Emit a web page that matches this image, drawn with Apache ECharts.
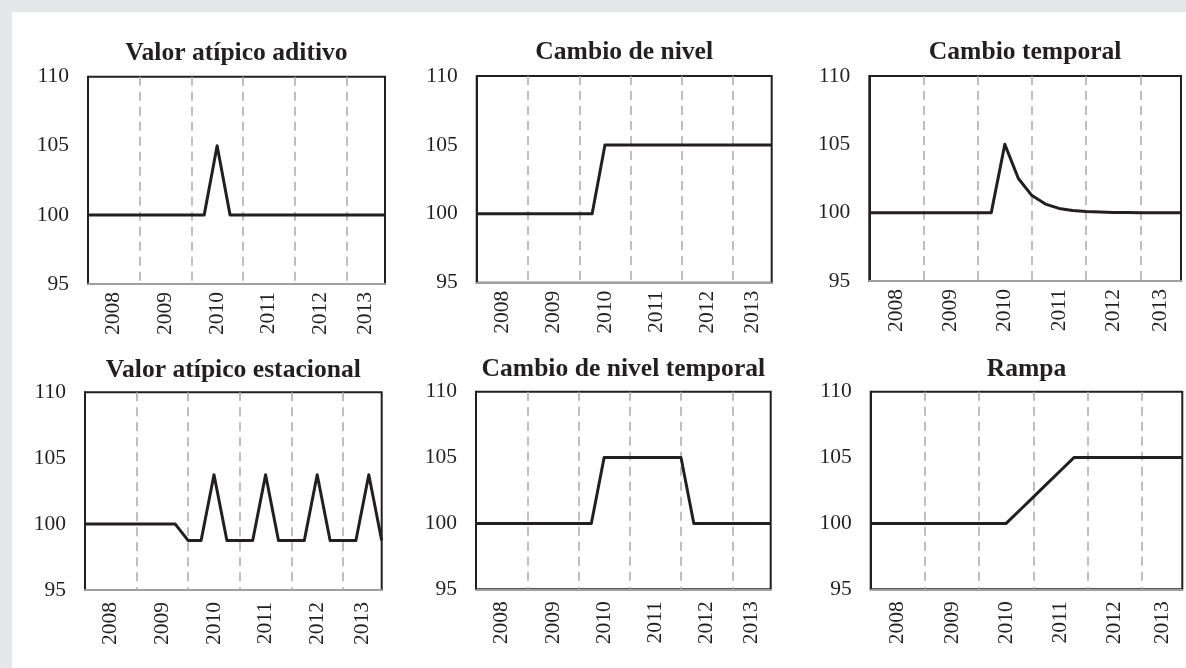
<!DOCTYPE html>
<html>
<head>
<meta charset="utf-8">
<script src="https://cdn.jsdelivr.net/npm/echarts@6/dist/echarts.min.js"></script>
<style>
  html, body { margin: 0; padding: 0; background: #e6e7e8; }
  #bg { position: absolute; left: 12px; top: 12px; width: 1174px; height: 656px; background: #ffffff; }
  #chart { position: absolute; left: 0; top: 0; width: 1186px; height: 668px; }
</style>
</head>
<body>
<div id="bg"></div>
<div id="chart"></div>
<script>
// ---- Data ----
const quarters = [
  '2008T1','2008T2','2008T3','2008T4',
  '2009T1','2009T2','2009T3','2009T4',
  '2010T1','2010T2','2010T3','2010T4',
  '2011T1','2011T2','2011T3','2011T4',
  '2012T1','2012T2','2012T3','2012T4',
  '2013T1','2013T2','2013T3','2013T4'
];
const years = ['2008','2009','2010','2011','2012','2013'];
const yTicks = [95, 100, 105, 110];

const titles = [
  'Valor atípico aditivo',
  'Cambio de nivel',
  'Cambio temporal',
  'Valor atípico estacional',
  'Cambio de nivel temporal',
  'Rampa'
];

const valorAtipicoAditivo = [100,100,100,100, 100,100,100,100, 100,100,105,100, 100,100,100,100, 100,100,100,100, 100,100,100,100];
const cambioDeNivel       = [100,100,100,100, 100,100,100,100, 100,100,105,105, 105,105,105,105, 105,105,105,105, 105,105,105,105];
const cambioTemporal      = [100,100,100,100, 100,100,100,100, 100,100,105,102.5, 101.25,100.63,100.31,100.16, 100.08,100.04,100.02,100.01, 100.00,100.00,100.00,100.00];
const valorAtipicoEstacional = [100,100,100,100, 100,100,100,100, 98.75,98.75,103.75,98.75, 98.75,98.75,103.75,98.75, 98.75,98.75,103.75,98.75, 98.75,98.75,103.75,98.75];
const cambioDeNivelTemporal = [100,100,100,100, 100,100,100,100, 100,100,105,105, 105,105,105,105, 105,100,100,100, 100,100,100,100];
const rampa               = [100,100,100,100, 100,100,100,100, 100,100,100,101, 102,103,104,105, 105,105,105,105, 105,105,105,105];

const seriesData = [valorAtipicoAditivo, cambioDeNivel, cambioTemporal, valorAtipicoEstacional, cambioDeNivelTemporal, rampa];

// year label positions: centre of each year's span of quarters
const yearCenters = years.map(function (y) {
  const first = quarters.findIndex(function (q) { return q.indexOf(y) === 0; });
  let last = -1;
  quarters.forEach(function (q, i) { if (q.indexOf(y) === 0) last = i; });
  const end = (last + 1 < quarters.length) ? last + 1 : last;
  return (first + end) / 2;
});
const yearStarts = years.map(function (y) { return quarters.findIndex(function (q) { return q.indexOf(y) === 0; }); });

// ---- Layout (pixels) ----
const panels = [
  { left: 88,    top: 76.7,  width: 297,   height: 207.3, titleTop: 40.5, xMargin: 8 },
  { left: 476.7, top: 76,    width: 295,   height: 206.7, titleTop: 39.5, xMargin: 8 },
  { left: 869.3, top: 76,    width: 311.7, height: 205,   titleTop: 39.5, xMargin: 8 },
  { left: 85,    top: 392.3, width: 296.7, height: 197.7, titleTop: 357.5, xMargin: 12 },
  { left: 476,   top: 391.7, width: 294.7, height: 197.6, titleTop: 356.5, xMargin: 12 },
  { left: 870.7, top: 391.7, width: 311.6, height: 197.6, titleTop: 356.5, xMargin: 12 }
];

const FONT = "'Liberation Serif', 'Times New Roman', serif";
const INK = '#231f20';

const option = {
  animation: false,
  backgroundColor: 'transparent',
  title: [], grid: [], xAxis: [], yAxis: [], series: []
};

panels.forEach(function (p, k) {
  option.title.push({
    text: titles[k],
    left: p.left + p.width / 2,
    top: p.titleTop,
    textAlign: 'center',
    padding: 0,
    textStyle: { fontFamily: FONT, fontSize: 25.6, fontWeight: 'bold', color: INK }
  });
  option.grid.push({
    left: p.left, top: p.top, width: p.width, height: p.height,
    show: true, borderColor: INK, borderWidth: 2, backgroundColor: 'transparent',
    containLabel: false
  });
  // data axis
  option.xAxis.push({
    type: 'category', gridIndex: k, data: quarters, boundaryGap: false,
    axisLine: { show: true, lineStyle: { color: '#9d9fa2', width: 2 } },
    axisTick: { show: false },
    axisLabel: { show: false },
    splitLine: {
      show: true,
      interval: function (idx) { return idx > 0 && yearStarts.indexOf(idx) >= 0; },
      lineStyle: { color: '#a7a9ac', width: 1.5, type: [9, 6] }
    }
  });
  // year label axis
  option.xAxis.push({
    type: 'value', gridIndex: k, min: 0, max: quarters.length - 1, position: 'bottom',
    axisLine: { show: false }, axisTick: { show: false }, splitLine: { show: false },
    axisLabel: {
      show: true, customValues: yearCenters, rotate: 90, margin: p.xMargin,
      fontFamily: FONT, fontSize: 21.5, color: INK,
      formatter: function (v) { const i = yearCenters.indexOf(v); return i >= 0 ? years[i] : ''; }
    }
  });
  option.yAxis.push({
    type: 'value', gridIndex: k, min: yTicks[0], max: yTicks[yTicks.length - 1], interval: 5,
    axisLine: { show: true, lineStyle: { color: INK, width: 2 } },
    axisTick: { show: false },
    splitLine: { show: false },
    axisLabel: { margin: 19, fontFamily: FONT, fontSize: 21.5, color: INK }
  });
  option.series.push({
    type: 'line', xAxisIndex: 2 * k, yAxisIndex: k, data: seriesData[k],
    showSymbol: false, symbol: 'none',
    lineStyle: { color: INK, width: 3, join: 'round' },
    z: 5
  });
});

const chart = echarts.init(document.getElementById('chart'), null, { renderer: 'canvas' });
chart.setOption(option);
</script>
</body>
</html>
